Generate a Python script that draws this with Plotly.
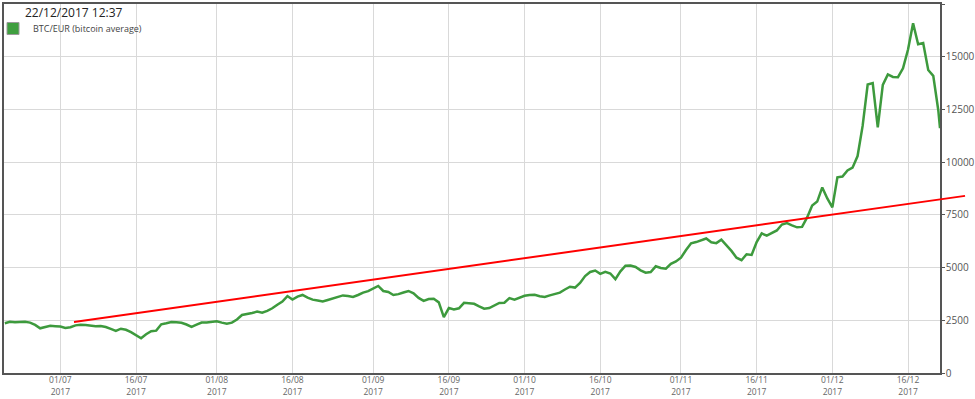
import plotly.graph_objects as go
import pandas as pd

series_name = "BTC/EUR (bitcoin average)"
stamp = "22/12/2017 12:37"

# daily BTC/EUR averages from 20/06/2017, last entry = latest reading on 22/12/2017
btc_eur = [
    2360, 2430, 2410, 2430, 2430, 2390, 2280, 2120, 2180, 2240, 2220,
    2200, 2140, 2170, 2260, 2290, 2280, 2250, 2220, 2230, 2180,
    2090, 2000, 2100, 2050, 1940, 1810, 1650, 1840, 1980, 2010,
    2310, 2360, 2420, 2410, 2380, 2300, 2190, 2290, 2390, 2400,
    2420, 2450, 2390, 2340, 2390, 2540, 2750, 2790, 2850, 2910,
    2860, 2950, 3070, 3240, 3390, 3650, 3480, 3620, 3700, 3570,
    3480, 3440, 3390, 3460, 3540, 3610, 3680, 3650, 3610, 3700,
    3810, 3880, 4000, 4130, 3890, 3840, 3700, 3740, 3820, 3890,
    3780, 3560, 3420, 3510, 3520, 3350, 2650, 3080, 3010, 3070,
    3330, 3300, 3280, 3160, 3050, 3080, 3200, 3320, 3330, 3550,
    3480, 3580, 3660, 3700, 3710, 3640, 3610, 3680, 3740, 3810,
    3960, 4090, 4050, 4270, 4600, 4790, 4860, 4700, 4800, 4720,
    4450, 4820, 5090, 5100, 5030, 4870, 4760, 4790, 5060, 4980,
    4950, 5180, 5290, 5470, 5830, 6150, 6210, 6310, 6380, 6200,
    6160, 6320, 6070, 5790, 5470, 5350, 5630, 5600, 6210, 6620,
    6510, 6620, 6760, 7040, 7110, 7000, 6910, 6930, 7380, 7940,
    8130, 8800, 8280, 7860, 9280, 9320, 9610, 9740, 10290, 11720,
    13680, 13750, 11650, 13660, 14160, 14040, 14030, 14450, 15340, 16590,
    15590, 15650, 14370, 14090, 12450,
    11610,
]
last_time = "2017-12-22 08:00"
dates = list(pd.date_range("2017-06-20", periods=len(btc_eur) - 1, freq="D")) + [pd.Timestamp(last_time)]

trend_dates = ["2017-07-03 17:00", "2017-12-27 07:00"]
trend_values = [2420, 8400]

tick_dates = ["2017-07-01", "2017-07-16", "2017-08-01", "2017-08-16", "2017-09-01", "2017-09-16",
              "2017-10-01", "2017-10-16", "2017-11-01", "2017-11-16", "2017-12-01", "2017-12-16"]
day_month_labels = ["01/07", "16/07", "01/08", "16/08", "01/09", "16/09",
                    "01/10", "16/10", "01/11", "16/11", "01/12", "16/12"]
year_labels = ["2017"] * len(tick_dates)
y_ticks = [0, 2500, 5000, 7500, 10000, 12500, 15000, 17500]

x_start = pd.Timestamp("2017-06-19 20:00")
x_end = pd.Timestamp(last_time)
dom_end = 936 / 962
x2_end = x_start + (x_end - x_start) / dom_end

FONT = "Open Sans, Lato, sans-serif"
AXIS = "#555555"
GRID = "#d9d9d9"

fig = go.Figure()
fig.add_trace(go.Scatter(x=dates, y=btc_eur, mode="lines", name=series_name,
                         line=dict(color="#3d9a3d", width=2.5), showlegend=False,
                         xaxis="x", yaxis="y", hoverinfo="x+y"))
fig.add_trace(go.Bar(x=[None], y=[None], name=series_name, showlegend=True,
                     marker=dict(color="#3f9f3f", line=dict(color="#9a9a9a", width=1)),
                     xaxis="x", yaxis="y"))
fig.add_trace(go.Scatter(x=trend_dates, y=trend_values, mode="lines", showlegend=False,
                         line=dict(color="#ff0000", width=2), xaxis="x2", yaxis="y2"))
# carrier for the year row of the date labels
fig.add_trace(go.Scatter(x=tick_dates[:1], y=[None], mode="lines", showlegend=False,
                         hoverinfo="skip", xaxis="x3", yaxis="y"))

fig.update_layout(
    width=975, height=399,
    margin=dict(l=4, r=9, t=4, b=26, autoexpand=False),
    paper_bgcolor="white", plot_bgcolor="rgba(0,0,0,0)",
    font=dict(family=FONT, size=10, color="#555"),
    title=dict(text=stamp, x=25 / 975, xref="container", xanchor="left",
               y=1 - 13 / 399, yref="container", yanchor="middle",
               pad=dict(l=0, r=0, t=0, b=0),
               font=dict(family=FONT, size=12, color="#222")),
    showlegend=True,
    legend=dict(x=0, y=1 - 10 / 369, xanchor="left", yanchor="top", indentation=-11,
                bgcolor="rgba(0,0,0,0)", font=dict(family=FONT, size=9, color="#444"),
                itemwidth=30),
    xaxis=dict(domain=[0, dom_end], type="date", range=[x_start, x_end], automargin=False,
               tickmode="array", tickvals=tick_dates, ticktext=day_month_labels,
               showgrid=True, gridcolor=GRID, gridwidth=1,
               showline=True, linecolor=AXIS, linewidth=1.5, mirror=True,
               ticks="", tickfont=dict(size=8.5, color="#666"), zeroline=False,
               ticklabelstandoff=-2),
    xaxis3=dict(overlaying="x", anchor="y", side="bottom", type="date", range=[x_start, x_end],
                automargin=False, tickmode="array", tickvals=tick_dates, ticktext=year_labels,
                showgrid=False, showline=False, ticks="", zeroline=False,
                tickfont=dict(size=8.5, color="#666"), ticklabelstandoff=12),
    yaxis=dict(domain=[0, 1], range=[0, 17500], side="right", tickmode="array", automargin=False,
               tickvals=y_ticks, ticktext=[str(v) for v in y_ticks],
               showgrid=True, gridcolor=GRID, gridwidth=1,
               showline=True, linecolor=AXIS, linewidth=1.5, mirror=True,
               ticks="outside", ticklen=3, tickcolor=AXIS,
               tickfont=dict(size=10, color="#555"), zeroline=False,
               ticklabelstandoff=-1),
    xaxis2=dict(domain=[0, 1], type="date", range=[x_start, x2_end], anchor="y2", automargin=False,
                visible=False, showgrid=False, zeroline=False),
    yaxis2=dict(domain=[0, 1], range=[0, 17500], anchor="x2", visible=False, automargin=False,
                showgrid=False, zeroline=False),
)

fig.write_html("out.html", config={"displayModeBar": False},
               post_script="document.body.style.margin='0';")
